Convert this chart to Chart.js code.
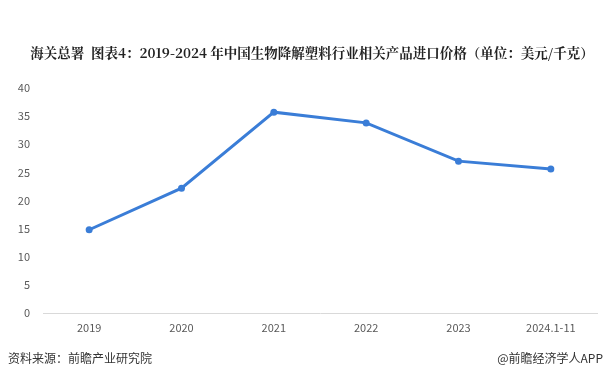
<!DOCTYPE html>
<html>
<head>
<meta charset="utf-8">
<script src="https://cdn.jsdelivr.net/npm/chart.js@4/dist/chart.umd.min.js"></script>
<style>
  html, body { margin: 0; padding: 0; background: #fff; }
  #wrap { position: relative; width: 609px; height: 381px; overflow: hidden; }
  #chart { position: absolute; left: 0; top: 0; }
  .title { position: absolute; left: 0; width: 624px; top: 42px; text-align: center; font: bold 13.5px "Noto Serif CJK SC", "Noto Sans CJK SC", serif; color: #222; white-space: nowrap; }
  .foot { position: absolute; top: 349px; font: 12px "Noto Sans CJK SC", sans-serif; color: #333; white-space: nowrap; }
</style>
</head>
<body>
<div id="wrap">
  <canvas id="chart" width="609" height="381"></canvas>
  <div class="title">海关总署&nbsp;&nbsp;图表4：2019-2024 年中国生物降解塑料行业相关产品进口价格（单位：美元/千克）</div>
  <div class="foot" style="left:8px">资料来源：前瞻产业研究院</div>
  <div class="foot" style="right:6px">@前瞻经济学人APP</div>
</div>
<script>
const years = ["2019", "2020", "2021", "2022", "2023", "2024.1-11"];
const prices = [14.8, 22.2, 35.7, 33.8, 27.0, 25.6];
const yTicks = [0, 5, 10, 15, 20, 25, 30, 35, 40];

const tickFont = { family: "'Noto Sans CJK SC', sans-serif", size: 11 };

new Chart(document.getElementById("chart"), {
  type: "line",
  data: {
    labels: years,
    datasets: [{
      data: prices,
      borderColor: "#3a7dd7",
      backgroundColor: "#3a7dd7",
      borderWidth: 3,
      pointRadius: 3.5,
      pointBackgroundColor: "#3a7dd7",
      pointBorderWidth: 0,
      tension: 0,
      fill: false
    }]
  },
  options: {
    responsive: false,
    animation: false,
    layout: { padding: { top: 88, right: 12, bottom: 40, left: 0 } },
    plugins: { legend: { display: false }, tooltip: { enabled: false } },
    scales: {
      x: {
        offset: true,
        grid: { display: false, drawTicks: false, offset: true },
        border: { display: true, color: "#d9d9d9", width: 1 },
        ticks: { color: "#595959", font: tickFont, padding: 8, maxRotation: 0 },
        afterFit: (scale) => { scale.height = 28; }
      },
      y: {
        min: 0,
        max: 40,
        afterBuildTicks: (scale) => { scale.ticks = yTicks.map((v) => ({ value: v })); },
        grid: { display: false, drawTicks: false },
        border: { display: false },
        ticks: { color: "#595959", font: tickFont, padding: 13 },
        afterFit: (scale) => { scale.width = 43; }
      }
    }
  }
});
</script>
</body>
</html>
